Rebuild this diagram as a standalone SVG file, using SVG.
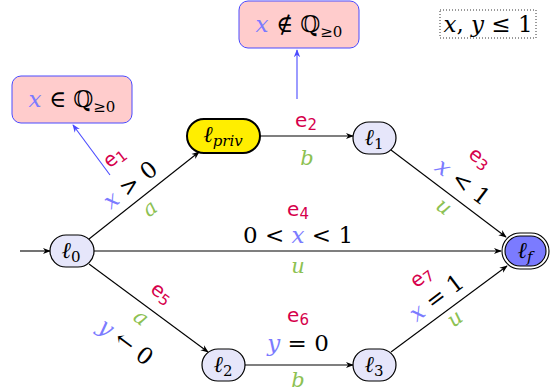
<svg xmlns="http://www.w3.org/2000/svg" width="557" height="391" viewBox="0 0 557 391">
<defs>
<style>
.node{fill:#e6e6fa;stroke:#000;stroke-width:1.2}
.m{font-family:'DejaVu Serif',serif;font-size:23px;fill:#000}
.i{font-style:italic}
.gr{fill:#8cc152;font-family:'DejaVu Serif',serif;font-style:italic;font-size:21px}
.ev{fill:#d6004b;font-family:'DejaVu Sans',sans-serif;font-size:20px}
.sub{font-size:15px}
.edge{fill:none;stroke:#000;stroke-width:1.1}
.note{fill:#ffcccc;stroke:#4a4aff;stroke-width:1}
.nedge{fill:none;stroke:#4a4aff;stroke-width:1.1}
</style>
<marker id="ah" viewBox="0 0 10 10" refX="9" refY="5" markerWidth="8" markerHeight="8" orient="auto" markerUnits="userSpaceOnUse">
<path d="M0,1 L10,5 L0,9 L3,5 z" fill="#000"/>
</marker>
<marker id="ahb" viewBox="0 0 10 10" refX="9" refY="5" markerWidth="8" markerHeight="8" orient="auto" markerUnits="userSpaceOnUse">
<path d="M0,1 L10,5 L0,9 L3,5 z" fill="#4a4aff"/>
</marker>
</defs>
<rect width="557" height="391" fill="#fff"/>

<g id="connectors">
<line class="edge" x1="20" y1="251" x2="50" y2="251" marker-end="url(#ah)"/>
<line class="edge" x1="89" y1="239" x2="199" y2="152" marker-end="url(#ah)"/>
<line class="edge" x1="260" y1="136" x2="353" y2="136" marker-end="url(#ah)"/>
<line class="edge" x1="391" y1="150" x2="506" y2="237" marker-end="url(#ah)"/>
<line class="edge" x1="94" y1="251" x2="501" y2="251" marker-end="url(#ah)"/>
<line class="edge" x1="89" y1="264" x2="208" y2="352" marker-end="url(#ah)"/>
<line class="edge" x1="245" y1="365" x2="353" y2="365" marker-end="url(#ah)"/>
<line class="edge" x1="391" y1="352" x2="507" y2="266" marker-end="url(#ah)"/>
<line class="nedge" x1="110" y1="175" x2="73" y2="125" marker-end="url(#ahb)"/>
<line class="nedge" x1="297" y1="99" x2="297" y2="50" marker-end="url(#ahb)"/>

<text class="ev" transform="translate(118,162) rotate(-38)" text-anchor="middle">e<tspan class="sub" dy="3">1</tspan></text>
<text class="m" transform="translate(135,191) rotate(-38)" text-anchor="middle"><tspan class="i" fill="#7b7bff">x</tspan> &gt; 0</text>
<text class="gr" transform="translate(154,214) rotate(-38)" text-anchor="middle">a</text>

<text class="ev" x="306" y="127" text-anchor="middle">e<tspan class="sub" dy="3">2</tspan></text>
<text class="gr" x="307" y="165" text-anchor="middle">b</text>

<text class="ev" transform="translate(476,163) rotate(37)" text-anchor="middle">e<tspan class="sub" dy="3">3</tspan></text>
<text class="m" transform="translate(458,188) rotate(37)" text-anchor="middle"><tspan class="i" fill="#7b7bff">x</tspan> &lt; 1</text>
<text class="gr" transform="translate(440,212) rotate(37)" text-anchor="middle">u</text>

<text class="ev" x="298" y="216" text-anchor="middle">e<tspan class="sub" dy="3">4</tspan></text>
<text class="m" x="298" y="243" text-anchor="middle">0 &lt; <tspan class="i" fill="#7b7bff">x</tspan> &lt; 1</text>
<text class="gr" x="298" y="273" text-anchor="middle">u</text>

<text class="ev" transform="translate(158,298) rotate(37)" text-anchor="middle">e<tspan class="sub" dy="3">5</tspan></text>
<text class="gr" transform="translate(137,323) rotate(37)" text-anchor="middle">a</text>
<text class="m" transform="translate(121,348) rotate(37)" text-anchor="middle"><tspan class="i" fill="#7b7bff">y</tspan> ← 0</text>

<text class="ev" x="298" y="322" text-anchor="middle">e<tspan class="sub" dy="3">6</tspan></text>
<text class="m" x="298" y="351" text-anchor="middle"><tspan class="i" fill="#7b7bff">y</tspan> = 0</text>
<text class="gr" x="298" y="387" text-anchor="middle">b</text>

<text class="ev" transform="translate(425,282) rotate(-37)" text-anchor="middle">e<tspan class="sub" dy="3">7</tspan></text>
<text class="m" transform="translate(441,304) rotate(-37)" text-anchor="middle"><tspan class="i" fill="#7b7bff">x</tspan> = 1</text>
<text class="gr" transform="translate(459,324) rotate(-37)" text-anchor="middle">u</text>
</g>

<g id="l0">
<rect class="node" x="50" y="235" width="44" height="32" rx="16"/>
<text class="m i" x="71" y="258" text-anchor="middle">ℓ<tspan class="sub" font-style="normal" dy="4">0</tspan></text>
</g>
<g id="lpriv">
<rect x="187" y="119" width="73" height="34" rx="17" fill="#ffee00" stroke="#000" stroke-width="2"/>
<text class="m i" x="223" y="142" text-anchor="middle">ℓ<tspan class="sub" dy="4">priv</tspan></text>
</g>
<g id="l1">
<rect class="node" x="353" y="122" width="43" height="32" rx="16"/>
<text class="m i" x="374" y="145" text-anchor="middle">ℓ<tspan class="sub" font-style="normal" dy="4">1</tspan></text>
</g>
<g id="l2">
<rect class="node" x="202" y="349" width="43" height="32" rx="16"/>
<text class="m i" x="223" y="372" text-anchor="middle">ℓ<tspan class="sub" font-style="normal" dy="4">2</tspan></text>
</g>
<g id="l3">
<rect class="node" x="353" y="349" width="43" height="32" rx="16"/>
<text class="m i" x="374" y="372" text-anchor="middle">ℓ<tspan class="sub" font-style="normal" dy="4">3</tspan></text>
</g>
<g id="lf">
<rect x="502" y="233" width="47" height="36" rx="18" fill="#fff" stroke="#000" stroke-width="1.1"/>
<rect x="505" y="236" width="41" height="30" rx="15" fill="#7b7bff" stroke="#000" stroke-width="1.1"/>
<text class="m i" x="525" y="258" text-anchor="middle">ℓ<tspan class="sub" dy="4">f</tspan></text>
</g>

<g id="note1">
<rect class="note" x="12" y="76" width="120" height="47" rx="9"/>
<text class="m" x="72" y="107" text-anchor="middle"><tspan class="i" fill="#7b7bff">x</tspan> ∈ ℚ<tspan class="sub" dy="5">≥0</tspan></text>
</g>
<g id="note2">
<rect class="note" x="239" y="1" width="120" height="47" rx="9"/>
<text class="m" x="299" y="32" text-anchor="middle"><tspan class="i" fill="#7b7bff">x</tspan> ∉ ℚ<tspan class="sub" dy="5">≥0</tspan></text>
</g>
<g id="constraint">
<rect x="440" y="10" width="96" height="28" fill="none" stroke="#000" stroke-width="0.8" stroke-dasharray="1,2"/>
<text class="m" x="488" y="32" text-anchor="middle"><tspan class="i">x</tspan>, <tspan class="i">y</tspan> ≤ 1</text>
</g>
</svg>
